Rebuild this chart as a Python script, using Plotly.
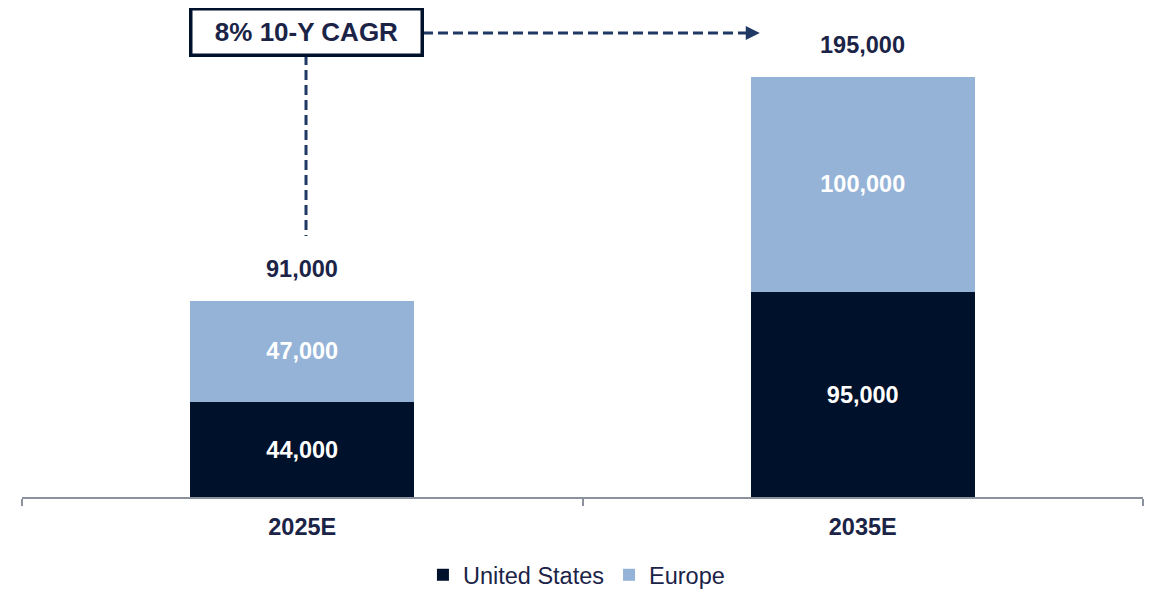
import plotly.graph_objects as go

categories = ["2025E", "2035E"]
us_values = [44000, 95000]
europe_values = [47000, 100000]
totals = [91000, 195000]
callout_text = "8% 10-Y CAGR"

US_COLOR = "#00112B"
EU_COLOR = "#95B3D7"
TEXT_COLOR = "#1B2447"
LINE_COLOR = "#1F3864"
FONT = "Liberation Sans, Arial, sans-serif"
NUM_SIZE = 23.5

fig = go.Figure()
fig.add_bar(x=categories, y=us_values, name="United States", marker_color=US_COLOR,
            marker_line_width=0,
            text=[f"{v:,}" for v in us_values], textposition="inside",
            insidetextanchor="middle",
            textfont=dict(color="white", size=NUM_SIZE, family=FONT, weight="bold"))
fig.add_bar(x=categories, y=europe_values, name="Europe", marker_color=EU_COLOR,
            marker_line_width=0,
            text=[f"{v:,}" for v in europe_values], textposition="inside",
            insidetextanchor="middle",
            textfont=dict(color="white", size=NUM_SIZE, family=FONT, weight="bold"))

for c, t in zip(categories, totals):
    fig.add_annotation(x=c, y=t, text=f"<b>{t:,}</b>", showarrow=False,
                       yanchor="middle", yshift=32,
                       font=dict(size=NUM_SIZE, color=TEXT_COLOR, family=FONT))

# callout box
fig.add_annotation(xref="x", yref="y", x=0.0076, y=215700, text=f"<b>{callout_text}</b>",
                   showarrow=False, width=228, height=43, borderpad=0,
                   bordercolor=US_COLOR, borderwidth=3.5, bgcolor="white",
                   font=dict(size=26, color=TEXT_COLOR, family=FONT))
# horizontal dashed connector
fig.add_shape(type="line", xref="x", yref="y", x0=0.2154, x1=0.792, y0=215160, y1=215160,
              line=dict(color=LINE_COLOR, width=3, dash="10px,5px"))
fig.add_shape(type="path", xref="x", yref="y",
              path="M 0.7913 218400 L 0.8163 215160 L 0.7913 211920 Z",
              fillcolor=LINE_COLOR, line=dict(width=0))
# vertical dashed connector
fig.add_shape(type="line", xref="x", yref="y", x0=0.0067, x1=0.0067, y0=204955, y1=121025,
              line=dict(color=LINE_COLOR, width=3, dash="10px,5px"))

fig.update_layout(
    barmode="stack",
    bargap=0.6,
    width=1148, height=581,
    margin=dict(l=14, r=13, t=0, b=92, autoexpand=False),
    plot_bgcolor="white", paper_bgcolor="white",
    font=dict(family=FONT, color=TEXT_COLOR),
    showlegend=True,
    legend=dict(orientation="h", x=0.4946, xanchor="center", y=-0.1595, yanchor="middle",
                font=dict(size=NUM_SIZE, color=TEXT_COLOR, family=FONT),
                itemwidth=30, tracegroupgap=0, traceorder="normal"),
    xaxis=dict(showline=True, linecolor="#8C919E", linewidth=2,
               ticks="outside", tickson="boundaries", ticklen=7, tickcolor="#8C919E",
               tickwidth=1.5, automargin=False, ticklabelstandoff=8,
               tickfont=dict(size=NUM_SIZE, color=TEXT_COLOR, family=FONT, weight="bold"),
               range=[-0.5, 1.5], showgrid=False, zeroline=False),
    yaxis=dict(visible=False, range=[0, 226766], showgrid=False, zeroline=False,
               automargin=False),
)

fig.write_html("out.html")
